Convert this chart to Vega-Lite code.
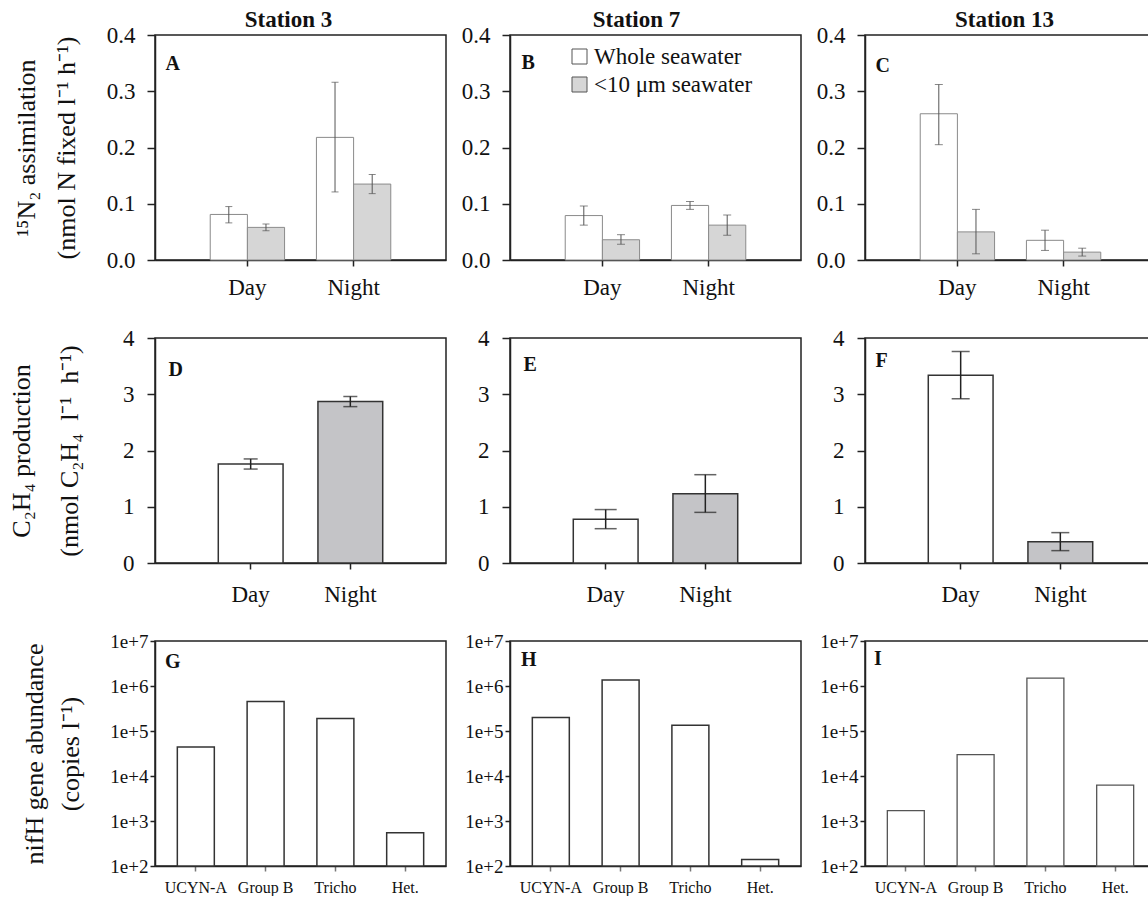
{
 "$schema": "https://vega.github.io/schema/vega-lite/v6.json",
 "padding": {"left": 7, "top": 8, "right": 0, "bottom": 0},
 "datasets": {
  "n2": [
   {"station": "Station 3", "time": "Day", "fraction": "Whole seawater", "value": 0.081, "lo": 0.066, "hi": 0.095},
   {"station": "Station 3", "time": "Day", "fraction": "<10 μm seawater", "value": 0.058, "lo": 0.052, "hi": 0.064},
   {"station": "Station 3", "time": "Night", "fraction": "Whole seawater", "value": 0.218, "lo": 0.121, "hi": 0.316},
   {"station": "Station 3", "time": "Night", "fraction": "<10 μm seawater", "value": 0.135, "lo": 0.118, "hi": 0.152},
   {"station": "Station 7", "time": "Day", "fraction": "Whole seawater", "value": 0.079, "lo": 0.062, "hi": 0.096},
   {"station": "Station 7", "time": "Day", "fraction": "<10 μm seawater", "value": 0.036, "lo": 0.028, "hi": 0.045},
   {"station": "Station 7", "time": "Night", "fraction": "Whole seawater", "value": 0.097, "lo": 0.090, "hi": 0.104},
   {"station": "Station 7", "time": "Night", "fraction": "<10 μm seawater", "value": 0.062, "lo": 0.044, "hi": 0.080},
   {"station": "Station 13", "time": "Day", "fraction": "Whole seawater", "value": 0.260, "lo": 0.205, "hi": 0.312},
   {"station": "Station 13", "time": "Day", "fraction": "<10 μm seawater", "value": 0.050, "lo": 0.011, "hi": 0.090},
   {"station": "Station 13", "time": "Night", "fraction": "Whole seawater", "value": 0.035, "lo": 0.017, "hi": 0.053},
   {"station": "Station 13", "time": "Night", "fraction": "<10 μm seawater", "value": 0.014, "lo": 0.007, "hi": 0.021}
  ],
  "c2h4": [
   {"station": "Station 3", "time": "Day", "value": 1.76, "lo": 1.67, "hi": 1.85},
   {"station": "Station 3", "time": "Night", "value": 2.87, "lo": 2.78, "hi": 2.96},
   {"station": "Station 7", "time": "Day", "value": 0.78, "lo": 0.61, "hi": 0.95},
   {"station": "Station 7", "time": "Night", "value": 1.23, "lo": 0.90, "hi": 1.57},
   {"station": "Station 13", "time": "Day", "value": 3.34, "lo": 2.92, "hi": 3.76},
   {"station": "Station 13", "time": "Night", "value": 0.38, "lo": 0.22, "hi": 0.54}
  ],
  "nifh": [
   {"station": "Station 3", "group": "UCYN-A", "abundance": 44000},
   {"station": "Station 3", "group": "Group B", "abundance": 450000},
   {"station": "Station 3", "group": "Tricho", "abundance": 190000},
   {"station": "Station 3", "group": "Het.", "abundance": 550},
   {"station": "Station 7", "group": "UCYN-A", "abundance": 200000},
   {"station": "Station 7", "group": "Group B", "abundance": 1360000},
   {"station": "Station 7", "group": "Tricho", "abundance": 134000},
   {"station": "Station 7", "group": "Het.", "abundance": 140},
   {"station": "Station 13", "group": "UCYN-A", "abundance": 1700},
   {"station": "Station 13", "group": "Group B", "abundance": 30000},
   {"station": "Station 13", "group": "Tricho", "abundance": 1500000},
   {"station": "Station 13", "group": "Het.", "abundance": 6300}
  ]
 },
 "columns": 3,
 "spacing": {"row": 78, "column": 64},
 "bounds": "flush",
 "resolve": {"scale": {"fill": "independent"}, "legend": {"fill": "independent"}},
 "concat": [
  {
   "width": 291, "height": 225,
   "title": {"text": "Station 3", "fontSize": 23, "fontWeight": "bold", "offset": -8, "dx": -12},
   "data": {"name": "n2"},
   "transform": [{"filter": "datum.station == 'Station 3'"}],
   "layer": [
    {"mark": {"type": "bar", "stroke": "#8a8a8a", "strokeWidth": 1},
     "encoding": {
      "x": {"field": "time", "type": "nominal", "sort": ["Day", "Night"], "scale": {"paddingInner": 0.3, "paddingOuter": 0.52}, "axis": {"title": null, "labelAngle": 0, "labelFontSize": 23, "labelPadding": 10, "tickSize": 6}},
      "xOffset": {"field": "fraction", "type": "nominal", "sort": ["Whole seawater", "<10 μm seawater"], "scale": {"paddingInner": 0, "paddingOuter": 0}},
      "y": {"field": "value", "type": "quantitative", "scale": {"domain": [0, 0.4], "nice": false}, "axis": {"values": [0, 0.1, 0.2, 0.3, 0.4], "format": ".1f", "labelFontSize": 23, "labelPadding": 12, "tickSize": 8, "title": ["¹⁵N₂ assimilation", "(nmol N fixed l⁻¹ h⁻¹)"], "titleFontSize": 26, "titlePadding": 27, "titleLineHeight": 40}},
      "fill": {"field": "fraction", "type": "nominal", "scale": {"domain": ["Whole seawater", "<10 μm seawater"], "range": ["#ffffff", "#d6d6d6"]}, "legend": null}
     }},
    {"mark": {"type": "rule", "color": "#555", "strokeWidth": 1},
     "encoding": {
      "x": {"field": "time", "type": "nominal", "sort": ["Day", "Night"], "axis": {"orient": "top", "title": "A", "domain": false, "ticks": false, "labels": false, "titleX": 10, "titleY": 34, "titleAngle": 0, "titleAlign": "left", "titleBaseline": "alphabetic", "titleFontSize": 20, "titleFontWeight": "bold"}},
      "xOffset": {"field": "fraction", "type": "nominal", "sort": ["Whole seawater", "<10 μm seawater"]},
      "y": {"field": "lo", "type": "quantitative"},
      "y2": {"field": "hi"}
     }},
    {"mark": {"type": "tick", "color": "#555", "size": 7, "thickness": 1},
     "encoding": {
      "x": {"field": "time", "type": "nominal", "sort": ["Day", "Night"], "axis": null},
      "xOffset": {"field": "fraction", "type": "nominal", "sort": ["Whole seawater", "<10 μm seawater"]},
      "y": {"field": "lo", "type": "quantitative"}
     }},
    {"mark": {"type": "tick", "color": "#555", "size": 7, "thickness": 1},
     "encoding": {
      "x": {"field": "time", "type": "nominal", "sort": ["Day", "Night"], "axis": null},
      "xOffset": {"field": "fraction", "type": "nominal", "sort": ["Whole seawater", "<10 μm seawater"]},
      "y": {"field": "hi", "type": "quantitative"}
     }}
   ],
   "resolve": {"axis": {"x": "independent"}}
  },
  {
   "width": 291, "height": 225,
   "title": {"text": "Station 7", "fontSize": 23, "fontWeight": "bold", "offset": -8, "dx": -19},
   "data": {"name": "n2"},
   "transform": [{"filter": "datum.station == 'Station 7'"}],
   "layer": [
    {"mark": {"type": "bar", "stroke": "#8a8a8a", "strokeWidth": 1},
     "encoding": {
      "x": {"field": "time", "type": "nominal", "sort": ["Day", "Night"], "scale": {"paddingInner": 0.3, "paddingOuter": 0.52}, "axis": {"title": null, "labelAngle": 0, "labelFontSize": 23, "labelPadding": 10, "tickSize": 6}},
      "xOffset": {"field": "fraction", "type": "nominal", "sort": ["Whole seawater", "<10 μm seawater"], "scale": {"paddingInner": 0, "paddingOuter": 0}},
      "y": {"field": "value", "type": "quantitative", "scale": {"domain": [0, 0.4], "nice": false}, "axis": {"values": [0, 0.1, 0.2, 0.3, 0.4], "format": ".1f", "labelFontSize": 23, "labelPadding": 12, "tickSize": 8, "title": null}},
      "fill": {"field": "fraction", "type": "nominal", "scale": {"domain": ["Whole seawater", "<10 μm seawater"], "range": ["#ffffff", "#d6d6d6"]}, "legend": {"orient": "none", "legendX": 58, "legendY": 10, "title": null, "symbolType": "square", "symbolSize": 225, "symbolStrokeColor": "#555", "symbolStrokeWidth": 1, "labelFontSize": 23, "labelFont": "Liberation Serif", "labelColor": "#111", "rowPadding": 4, "labelOffset": 3}}
     }},
    {"mark": {"type": "rule", "color": "#555", "strokeWidth": 1},
     "encoding": {
      "x": {"field": "time", "type": "nominal", "sort": ["Day", "Night"], "axis": {"orient": "top", "title": "B", "domain": false, "ticks": false, "labels": false, "titleX": 11, "titleY": 33, "titleAngle": 0, "titleAlign": "left", "titleBaseline": "alphabetic", "titleFontSize": 20, "titleFontWeight": "bold"}},
      "xOffset": {"field": "fraction", "type": "nominal", "sort": ["Whole seawater", "<10 μm seawater"]},
      "y": {"field": "lo", "type": "quantitative"},
      "y2": {"field": "hi"}
     }},
    {"mark": {"type": "tick", "color": "#555", "size": 8, "thickness": 1},
     "encoding": {
      "x": {"field": "time", "type": "nominal", "sort": ["Day", "Night"], "axis": null},
      "xOffset": {"field": "fraction", "type": "nominal", "sort": ["Whole seawater", "<10 μm seawater"]},
      "y": {"field": "lo", "type": "quantitative"}
     }},
    {"mark": {"type": "tick", "color": "#555", "size": 8, "thickness": 1},
     "encoding": {
      "x": {"field": "time", "type": "nominal", "sort": ["Day", "Night"], "axis": null},
      "xOffset": {"field": "fraction", "type": "nominal", "sort": ["Whole seawater", "<10 μm seawater"]},
      "y": {"field": "hi", "type": "quantitative"}
     }}
   ],
   "resolve": {"axis": {"x": "independent"}}
  },
  {
   "width": 291, "height": 225,
   "title": {"text": "Station 13", "fontSize": 23, "fontWeight": "bold", "offset": -8, "dx": -6},
   "data": {"name": "n2"},
   "transform": [{"filter": "datum.station == 'Station 13'"}],
   "layer": [
    {"mark": {"type": "bar", "stroke": "#8a8a8a", "strokeWidth": 1},
     "encoding": {
      "x": {"field": "time", "type": "nominal", "sort": ["Day", "Night"], "scale": {"paddingInner": 0.3, "paddingOuter": 0.52}, "axis": {"title": null, "labelAngle": 0, "labelFontSize": 23, "labelPadding": 10, "tickSize": 6}},
      "xOffset": {"field": "fraction", "type": "nominal", "sort": ["Whole seawater", "<10 μm seawater"], "scale": {"paddingInner": 0, "paddingOuter": 0}},
      "y": {"field": "value", "type": "quantitative", "scale": {"domain": [0, 0.4], "nice": false}, "axis": {"values": [0, 0.1, 0.2, 0.3, 0.4], "format": ".1f", "labelFontSize": 23, "labelPadding": 12, "tickSize": 8, "title": null}},
      "fill": {"field": "fraction", "type": "nominal", "scale": {"domain": ["Whole seawater", "<10 μm seawater"], "range": ["#ffffff", "#d6d6d6"]}, "legend": null}
     }},
    {"mark": {"type": "rule", "color": "#555", "strokeWidth": 1},
     "encoding": {
      "x": {"field": "time", "type": "nominal", "sort": ["Day", "Night"], "axis": {"orient": "top", "title": "C", "domain": false, "ticks": false, "labels": false, "titleX": 10, "titleY": 36, "titleAngle": 0, "titleAlign": "left", "titleBaseline": "alphabetic", "titleFontSize": 20, "titleFontWeight": "bold"}},
      "xOffset": {"field": "fraction", "type": "nominal", "sort": ["Whole seawater", "<10 μm seawater"]},
      "y": {"field": "lo", "type": "quantitative"},
      "y2": {"field": "hi"}
     }},
    {"mark": {"type": "tick", "color": "#555", "size": 8, "thickness": 1},
     "encoding": {
      "x": {"field": "time", "type": "nominal", "sort": ["Day", "Night"], "axis": null},
      "xOffset": {"field": "fraction", "type": "nominal", "sort": ["Whole seawater", "<10 μm seawater"]},
      "y": {"field": "lo", "type": "quantitative"}
     }},
    {"mark": {"type": "tick", "color": "#555", "size": 8, "thickness": 1},
     "encoding": {
      "x": {"field": "time", "type": "nominal", "sort": ["Day", "Night"], "axis": null},
      "xOffset": {"field": "fraction", "type": "nominal", "sort": ["Whole seawater", "<10 μm seawater"]},
      "y": {"field": "hi", "type": "quantitative"}
     }}
   ],
   "resolve": {"axis": {"x": "independent"}}
  },
  {
   "width": 291, "height": 225,
   "data": {"name": "c2h4"},
   "transform": [{"filter": "datum.station == 'Station 3'"}],
   "layer": [
    {"mark": {"type": "bar", "stroke": "#333", "strokeWidth": 1.5},
     "encoding": {
      "x": {"field": "time", "type": "nominal", "sort": ["Day", "Night"], "scale": {"paddingInner": 0.35, "paddingOuter": 0.635}, "axis": {"title": null, "labelAngle": 0, "labelFontSize": 23, "labelPadding": 14, "tickSize": 6}},
      "y": {"field": "value", "type": "quantitative", "scale": {"domain": [0, 4], "nice": false}, "axis": {"values": [0, 1, 2, 3, 4], "format": "d", "labelFontSize": 23, "labelPadding": 13, "tickSize": 8, "title": ["C₂H₄ production", "(nmol C₂H₄\u00a0\u00a0l⁻¹\u00a0\u00a0h⁻¹)"], "titleFontSize": 26, "titlePadding": 40, "titleLineHeight": 48}},
      "fill": {"field": "time", "type": "nominal", "scale": {"domain": ["Day", "Night"], "range": ["#ffffff", "#c4c4c7"]}, "legend": null}
     }},
    {"mark": {"type": "rule", "color": "#222", "strokeWidth": 1.5},
     "encoding": {
      "x": {"field": "time", "type": "nominal", "sort": ["Day", "Night"], "axis": {"orient": "top", "title": "D", "domain": false, "ticks": false, "labels": false, "titleX": 13, "titleY": 37, "titleAngle": 0, "titleAlign": "left", "titleBaseline": "alphabetic", "titleFontSize": 20, "titleFontWeight": "bold"}},
      "y": {"field": "lo", "type": "quantitative"},
      "y2": {"field": "hi"}
     }},
    {"mark": {"type": "tick", "color": "#222", "size": 14, "thickness": 1.5},
     "encoding": {
      "x": {"field": "time", "type": "nominal", "sort": ["Day", "Night"], "axis": null},
      "y": {"field": "lo", "type": "quantitative"}
     }},
    {"mark": {"type": "tick", "color": "#222", "size": 14, "thickness": 1.5},
     "encoding": {
      "x": {"field": "time", "type": "nominal", "sort": ["Day", "Night"], "axis": null},
      "y": {"field": "hi", "type": "quantitative"}
     }}
   ],
   "resolve": {"axis": {"x": "independent"}}
  },
  {
   "width": 291, "height": 225,
   "data": {"name": "c2h4"},
   "transform": [{"filter": "datum.station == 'Station 7'"}],
   "layer": [
    {"mark": {"type": "bar", "stroke": "#333", "strokeWidth": 1.5},
     "encoding": {
      "x": {"field": "time", "type": "nominal", "sort": ["Day", "Night"], "scale": {"paddingInner": 0.35, "paddingOuter": 0.635}, "axis": {"title": null, "labelAngle": 0, "labelFontSize": 23, "labelPadding": 14, "tickSize": 6}},
      "y": {"field": "value", "type": "quantitative", "scale": {"domain": [0, 4], "nice": false}, "axis": {"values": [0, 1, 2, 3, 4], "format": "d", "labelFontSize": 23, "labelPadding": 13, "tickSize": 8, "title": null}},
      "fill": {"field": "time", "type": "nominal", "scale": {"domain": ["Day", "Night"], "range": ["#ffffff", "#c4c4c7"]}, "legend": null}
     }},
    {"mark": {"type": "rule", "color": "#222", "strokeWidth": 1.5},
     "encoding": {
      "x": {"field": "time", "type": "nominal", "sort": ["Day", "Night"], "axis": {"orient": "top", "title": "E", "domain": false, "ticks": false, "labels": false, "titleX": 13, "titleY": 32, "titleAngle": 0, "titleAlign": "left", "titleBaseline": "alphabetic", "titleFontSize": 20, "titleFontWeight": "bold"}},
      "y": {"field": "lo", "type": "quantitative"},
      "y2": {"field": "hi"}
     }},
    {"mark": {"type": "tick", "color": "#222", "size": 22, "thickness": 1.5},
     "encoding": {
      "x": {"field": "time", "type": "nominal", "sort": ["Day", "Night"], "axis": null},
      "y": {"field": "lo", "type": "quantitative"}
     }},
    {"mark": {"type": "tick", "color": "#222", "size": 22, "thickness": 1.5},
     "encoding": {
      "x": {"field": "time", "type": "nominal", "sort": ["Day", "Night"], "axis": null},
      "y": {"field": "hi", "type": "quantitative"}
     }}
   ],
   "resolve": {"axis": {"x": "independent"}}
  },
  {
   "width": 291, "height": 225,
   "data": {"name": "c2h4"},
   "transform": [{"filter": "datum.station == 'Station 13'"}],
   "layer": [
    {"mark": {"type": "bar", "stroke": "#333", "strokeWidth": 1.5},
     "encoding": {
      "x": {"field": "time", "type": "nominal", "sort": ["Day", "Night"], "scale": {"paddingInner": 0.35, "paddingOuter": 0.635}, "axis": {"title": null, "labelAngle": 0, "labelFontSize": 23, "labelPadding": 14, "tickSize": 6}},
      "y": {"field": "value", "type": "quantitative", "scale": {"domain": [0, 4], "nice": false}, "axis": {"values": [0, 1, 2, 3, 4], "format": "d", "labelFontSize": 23, "labelPadding": 13, "tickSize": 8, "title": null}},
      "fill": {"field": "time", "type": "nominal", "scale": {"domain": ["Day", "Night"], "range": ["#ffffff", "#c4c4c7"]}, "legend": null}
     }},
    {"mark": {"type": "rule", "color": "#222", "strokeWidth": 1.5},
     "encoding": {
      "x": {"field": "time", "type": "nominal", "sort": ["Day", "Night"], "axis": {"orient": "top", "title": "F", "domain": false, "ticks": false, "labels": false, "titleX": 10, "titleY": 28, "titleAngle": 0, "titleAlign": "left", "titleBaseline": "alphabetic", "titleFontSize": 20, "titleFontWeight": "bold"}},
      "y": {"field": "lo", "type": "quantitative"},
      "y2": {"field": "hi"}
     }},
    {"mark": {"type": "tick", "color": "#222", "size": 18, "thickness": 1.5},
     "encoding": {
      "x": {"field": "time", "type": "nominal", "sort": ["Day", "Night"], "axis": null},
      "y": {"field": "lo", "type": "quantitative"}
     }},
    {"mark": {"type": "tick", "color": "#222", "size": 18, "thickness": 1.5},
     "encoding": {
      "x": {"field": "time", "type": "nominal", "sort": ["Day", "Night"], "axis": null},
      "y": {"field": "hi", "type": "quantitative"}
     }}
   ],
   "resolve": {"axis": {"x": "independent"}}
  },
  {
   "width": 291, "height": 225,
   "title": {"text": "G", "anchor": "start", "frame": "group", "offset": -40, "dx": 10, "fontSize": 20, "fontWeight": "bold"},
   "data": {"name": "nifh"},
   "transform": [{"filter": "datum.station == 'Station 3'"}],
   "mark": {"type": "bar", "fill": "#ffffff", "stroke": "#333", "strokeWidth": 1.5},
   "encoding": {
    "x": {"field": "group", "type": "nominal", "sort": ["UCYN-A", "Group B", "Tricho", "Het."], "scale": {"paddingInner": 0.47, "paddingOuter": 0.32}, "axis": {"title": null, "labelAngle": 0, "labelFontSize": 16, "labelPadding": 8, "tickSize": 5, "tickColor": "#777"}},
    "y": {"field": "abundance", "type": "quantitative", "scale": {"type": "log", "domain": [100, 10000000], "nice": false}, "axis": {"values": [100, 1000, 10000, 100000, 1000000, 10000000], "format": ".0e", "labelFontSize": 19, "labelPadding": 2, "tickSize": 5, "title": ["nifH gene abundance", "(copies l⁻¹)"], "titleFontSize": 26, "titlePadding": 26, "titleLineHeight": 36}},
    "y2": {"datum": 100}
   }
  },
  {
   "width": 291, "height": 225,
   "title": {"text": "H", "anchor": "start", "frame": "group", "offset": -38, "dx": 11, "fontSize": 20, "fontWeight": "bold"},
   "data": {"name": "nifh"},
   "transform": [{"filter": "datum.station == 'Station 7'"}],
   "mark": {"type": "bar", "fill": "#ffffff", "stroke": "#333", "strokeWidth": 1.5},
   "encoding": {
    "x": {"field": "group", "type": "nominal", "sort": ["UCYN-A", "Group B", "Tricho", "Het."], "scale": {"paddingInner": 0.47, "paddingOuter": 0.32}, "axis": {"title": null, "labelAngle": 0, "labelFontSize": 16, "labelPadding": 8, "tickSize": 5, "tickColor": "#777"}},
    "y": {"field": "abundance", "type": "quantitative", "scale": {"type": "log", "domain": [100, 10000000], "nice": false}, "axis": {"values": [100, 1000, 10000, 100000, 1000000, 10000000], "format": ".0e", "labelFontSize": 19, "labelPadding": 2, "tickSize": 5, "title": null}},
    "y2": {"datum": 100}
   }
  },
  {
   "width": 291, "height": 225,
   "title": {"text": "I", "anchor": "start", "frame": "group", "offset": -37, "dx": 9, "fontSize": 20, "fontWeight": "bold"},
   "data": {"name": "nifh"},
   "transform": [{"filter": "datum.station == 'Station 13'"}],
   "mark": {"type": "bar", "fill": "#ffffff", "stroke": "#555", "strokeWidth": 1.3},
   "encoding": {
    "x": {"field": "group", "type": "nominal", "sort": ["UCYN-A", "Group B", "Tricho", "Het."], "scale": {"paddingInner": 0.47, "paddingOuter": 0.32}, "axis": {"title": null, "labelAngle": 0, "labelFontSize": 16, "labelPadding": 8, "tickSize": 5, "tickColor": "#777"}},
    "y": {"field": "abundance", "type": "quantitative", "scale": {"type": "log", "domain": [100, 10000000], "nice": false}, "axis": {"values": [100, 1000, 10000, 100000, 1000000, 10000000], "format": ".0e", "labelFontSize": 19, "labelPadding": 2, "tickSize": 5, "title": null}},
    "y2": {"datum": 100}
   }
  }
 ],
 "config": {
  "font": "Liberation Serif",
  "background": "white",
  "view": {"stroke": "#222", "strokeWidth": 1.5},
  "axis": {"labelFont": "Liberation Serif", "titleFont": "Liberation Serif", "labelColor": "#111", "titleColor": "#111", "domainColor": "#222", "tickColor": "#222", "domainWidth": 1.5, "tickWidth": 1.5, "grid": false, "titleFontWeight": "normal"},
  "title": {"font": "Liberation Serif", "color": "#111"},
  "legend": {"labelFont": "Liberation Serif"}
 }
}
